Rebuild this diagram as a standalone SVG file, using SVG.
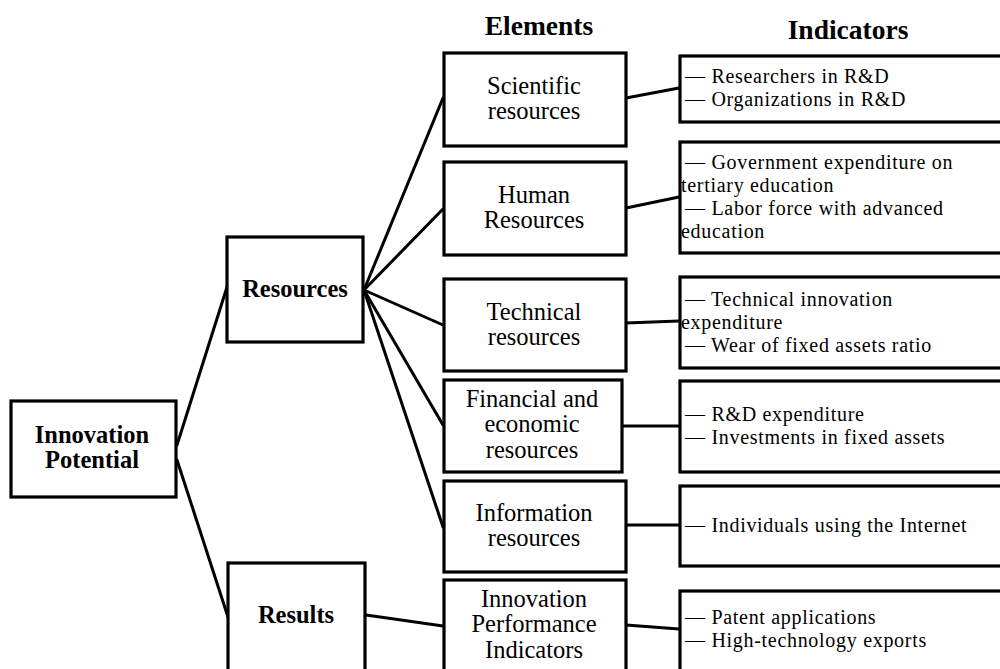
<svg xmlns="http://www.w3.org/2000/svg" width="1000" height="669" viewBox="0 0 1000 669">
<style>
text{font-family:"Liberation Serif","Times New Roman",Times,"DejaVu Serif",serif;fill:#000}
.box{fill:#fff;stroke:#000;stroke-width:3.2}
.ln{stroke:#000;stroke-width:3;fill:none;stroke-linecap:round}
.hd{font-weight:bold;font-size:27.5px;text-anchor:middle}
.bl{font-weight:bold;font-size:24.5px;text-anchor:middle}
.el{font-size:24.5px;text-anchor:middle}
.ind{font-size:20px;letter-spacing:0.7px}
</style>
<rect width="1000" height="669" fill="#fff"/>
<g id="connectors">
<line class="ln" x1="177" y1="445" x2="227" y2="287"/>
<line class="ln" x1="177" y1="460" x2="228" y2="617"/>
<line class="ln" x1="364" y1="290" x2="443" y2="98"/>
<line class="ln" x1="364" y1="290" x2="443" y2="209"/>
<line class="ln" x1="364" y1="290" x2="443" y2="325"/>
<line class="ln" x1="364" y1="290" x2="443" y2="425"/>
<line class="ln" x1="364" y1="290" x2="443" y2="527"/>
<line class="ln" x1="366" y1="615" x2="443" y2="626"/>
<line class="ln" x1="626" y1="98" x2="679" y2="88"/>
<line class="ln" x1="626" y1="208" x2="679" y2="197"/>
<line class="ln" x1="626" y1="323" x2="679" y2="321"/>
<line class="ln" x1="622" y1="426" x2="679" y2="426"/>
<line class="ln" x1="626" y1="525" x2="679" y2="525"/>
<line class="ln" x1="626" y1="625" x2="679" y2="629"/>
</g>
<g id="titles">
<text class="hd" x="539" y="35">Elements</text>
<text class="hd" x="848" y="39">Indicators</text>
</g>
<g id="innovation-potential">
<rect class="box" x="11" y="401" width="165" height="96"/>
<text class="bl" x="92" y="443">Innovation</text>
<text class="bl" x="92" y="468">Potential</text>
</g>
<g id="resources">
<rect class="box" x="227" y="237" width="136" height="105"/>
<text class="bl" x="295" y="297">Resources</text>
</g>
<g id="results">
<rect class="box" x="228" y="563" width="137" height="112"/>
<text class="bl" x="296" y="623">Results</text>
</g>
<g id="scientific">
<rect class="box" x="444" y="53" width="182" height="93"/>
<text class="el" x="534" y="94">Scientific</text>
<text class="el" x="534" y="119">resources</text>
</g>
<g id="human">
<rect class="box" x="444" y="162" width="182" height="93"/>
<text class="el" x="534" y="203">Human</text>
<text class="el" x="534" y="228">Resources</text>
</g>
<g id="technical">
<rect class="box" x="444" y="279" width="182" height="92"/>
<text class="el" x="534" y="320">Technical</text>
<text class="el" x="534" y="345">resources</text>
</g>
<g id="financial">
<rect class="box" x="444" y="380" width="178" height="92"/>
<text class="el" x="532" y="407">Financial and</text>
<text class="el" x="532" y="432">economic</text>
<text class="el" x="532" y="458">resources</text>
</g>
<g id="information">
<rect class="box" x="444" y="481" width="182" height="91"/>
<text class="el" x="534" y="521">Information</text>
<text class="el" x="534" y="546">resources</text>
</g>
<g id="innovation-performance">
<rect class="box" x="444" y="580" width="182" height="95"/>
<text class="el" x="534" y="607">Innovation</text>
<text class="el" x="534" y="632">Performance</text>
<text class="el" x="534" y="658">Indicators</text>
</g>
<g id="ind-scientific">
<rect class="box" x="680" y="56" width="325" height="66"/>
<text class="ind" x="685" y="83">— Researchers in R&amp;D</text>
<text class="ind" x="685" y="106">— Organizations in R&amp;D</text>
</g>
<g id="ind-human">
<rect class="box" x="680" y="142" width="325" height="111"/>
<text class="ind" x="685" y="169">— Government expenditure on</text>
<text class="ind" x="681" y="192">tertiary education</text>
<text class="ind" x="685" y="215">— Labor force with advanced</text>
<text class="ind" x="681" y="238">education</text>
</g>
<g id="ind-technical">
<rect class="box" x="680" y="277" width="325" height="91"/>
<text class="ind" x="685" y="306">— Technical innovation</text>
<text class="ind" x="681" y="329">expenditure</text>
<text class="ind" x="685" y="352">— Wear of fixed assets ratio</text>
</g>
<g id="ind-financial">
<rect class="box" x="680" y="381" width="325" height="91"/>
<text class="ind" x="685" y="421">— R&amp;D expenditure</text>
<text class="ind" x="685" y="444">— Investments in fixed assets</text>
</g>
<g id="ind-information">
<rect class="box" x="680" y="486" width="325" height="80"/>
<text class="ind" x="685" y="532">— Individuals using the Internet</text>
</g>
<g id="ind-performance">
<rect class="box" x="680" y="591" width="325" height="84"/>
<text class="ind" x="685" y="624">— Patent applications</text>
<text class="ind" x="685" y="647">— High-technology exports</text>
</g>
</svg>
